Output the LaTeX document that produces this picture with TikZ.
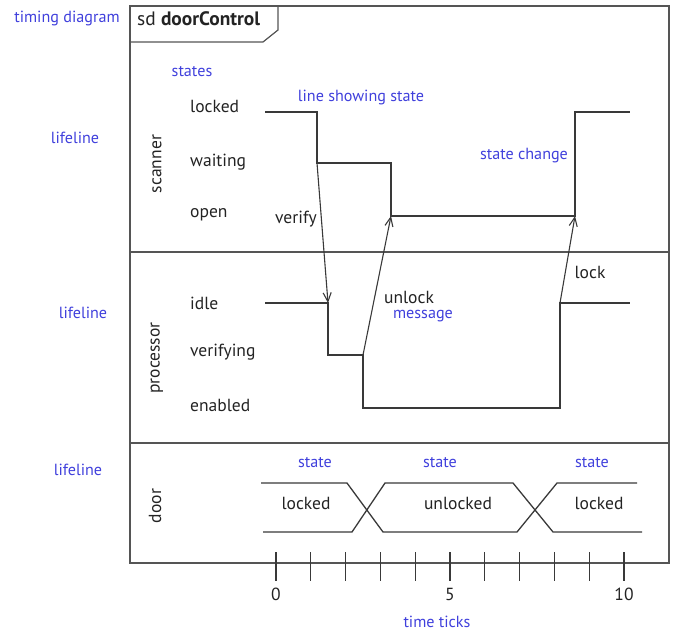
\documentclass[tikz,border=0pt]{standalone}
\usepackage{fontspec}
\setmainfont{PT Sans}
\usetikzlibrary{arrows.meta}
\definecolor{ink}{RGB}{35,35,35}
\definecolor{notec}{RGB}{64,64,220}
\definecolor{framec}{RGB}{85,85,85}
\begin{document}
\begin{tikzpicture}[x=1bp,y=-1bp,
  lbl/.style={font=\fontsize{17.6}{19}\selectfont, text=ink, inner sep=0pt},
  st/.style={lbl, anchor=west},
  note/.style={font=\fontsize{16.2}{18}\selectfont, text=notec, inner sep=0pt},
  sig/.style={draw=ink!90, line width=1.3bp},
  msg/.style={draw=ink!90, line width=1.1bp, -{Straight Barb[length=9bp,width=8bp]}},
  frm/.style={draw=framec, line width=1.2bp},
  tick/.style={draw=ink!90, line width=1.1bp}
]
\useasboundingbox (0,0) rectangle (675,632);
% frame
\draw[frm] (130,6) rectangle (669,563);
\draw[frm] (130,252) -- (669,252);
\draw[frm] (130,443) -- (669,443);
\draw[frm] (130,42) -- (263,42) -- (278,30) -- (278,6);
\node[lbl, anchor=west, font=\fontsize{19.5}{21}\selectfont] (title) at (137,19) {sd \textbf{doorControl}};
\node[note] (td) at (67,18) {timing diagram};
% lifelines
\node[lbl, rotate=90] (scn) at (157,164) {scanner};
\node[lbl, rotate=90] (prc) at (157,358) {processor};
\node[lbl, rotate=90] (dor) at (155,506) {door};
\node[note] (lf1) at (75,138) {lifeline};
\node[note] (lf2) at (83,313) {lifeline};
\node[note] (lf3) at (78,470) {lifeline};
% state names
\node[note] (sts) at (192,72) {states};
\node[st] (sLock) at (190,106) {locked};
\node[st] (sWait) at (190,162) {waiting};
\node[st] (sOpen) at (190,215) {open};
\node[st] (pIdle) at (190,303) {idle};
\node[st] (pVer) at (190,352) {verifying};
\node[st] (pEn) at (190,405) {enabled};
% scanner signal
\coordinate (s0) at (265,112);
\coordinate (s1) at (317,112);
\coordinate (s2) at (317,163);
\coordinate (s3) at (391,163);
\coordinate (s4) at (391,216);
\coordinate (s5) at (575,216);
\coordinate (s6) at (575,112);
\coordinate (s7) at (630,112);
\draw[sig] (s0) -- (s1) -- (s2) -- (s3) -- (s4) -- (s5) -- (s6) -- (s7);
% processor signal
\coordinate (p0) at (265,303);
\coordinate (p1) at (328,303);
\coordinate (p2) at (328,355);
\coordinate (p3) at (363,355);
\coordinate (p4) at (363,408);
\coordinate (p5) at (560,408);
\coordinate (p6) at (560,303);
\coordinate (p7) at (630,303);
\draw[sig] (p0) -- (p1) -- (p2) -- (p3) -- (p4) -- (p5) -- (p6) -- (p7);
% messages
\draw[msg] (s2) -- (p1);
\draw[msg] (p3) -- (s4);
\draw[msg] (p6) -- (s5);
\node[lbl] (mver) at (296,219) {verify};
\node[lbl] (munl) at (409,297) {unlock};
\node[note] (mmsg) at (423,316) {message};
\node[lbl] (mlck) at (590,272) {lock};
\node[note] (nlss) at (361,97) {line showing state};
\node[note] (nsc) at (524,156) {state change};
% door
\coordinate (d0) at (261,483);
\coordinate (d1) at (347,483);
\coordinate (d2) at (383,532);
\coordinate (d3) at (517,532);
\coordinate (d4) at (557,483);
\coordinate (d5) at (637,483);
\coordinate (e0) at (263,532);
\coordinate (e1) at (352,532);
\coordinate (e2) at (385,483);
\coordinate (e3) at (513,483);
\coordinate (e4) at (553,532);
\coordinate (e5) at (642,532);
\draw[sig] (d0) -- (d1) -- (d2) -- (d3) -- (d4) -- (d5);
\draw[sig] (e0) -- (e1) -- (e2) -- (e3) -- (e4) -- (e5);
\node[lbl] (dl1) at (306,503) {locked};
\node[lbl] (du) at (458,503) {unlocked};
\node[lbl] (dl2) at (599,503) {locked};
\node[note] (ds1) at (315,463) {state};
\node[note] (ds2) at (440,463) {state};
\node[note] (ds3) at (592,463) {state};
% time ticks
\foreach \i in {0,...,10} {
  \draw[tick] ({276+34.8*\i},552) -- ({276+34.8*\i},581);
}
\node[lbl] (t0) at (276,594) {0};
\node[lbl] (t5) at (450,594) {5};
\node[lbl] (t10) at (624,594) {10};
\node[note] (tt) at (437,622) {time ticks};
\end{tikzpicture}
\end{document}
